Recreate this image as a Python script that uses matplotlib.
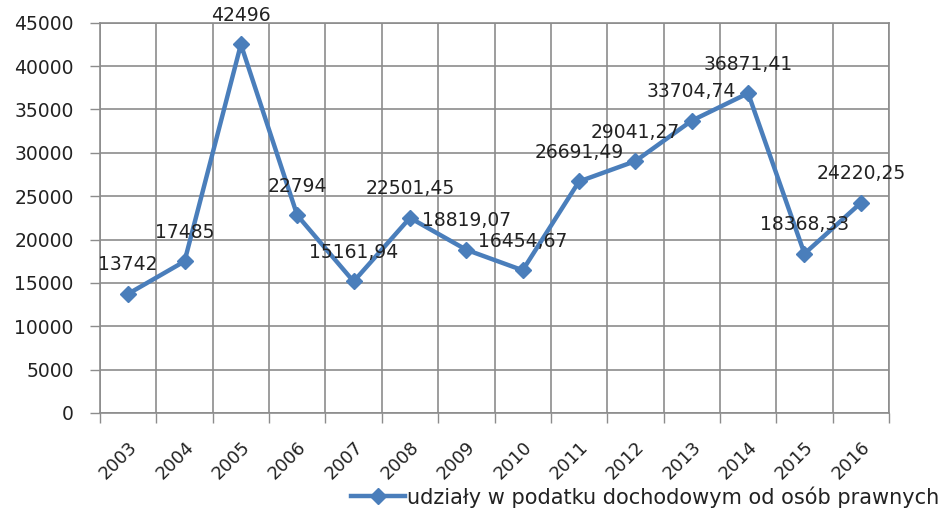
import matplotlib
matplotlib.use("Agg")
import matplotlib.pyplot as plt
import numpy as np

years = ["2003", "2004", "2005", "2006", "2007", "2008", "2009", "2010",
         "2011", "2012", "2013", "2014", "2015", "2016"]
values = [13742, 17485, 42496, 22794, 15161.94, 22501.45, 18819.07, 16454.67,
          26691.49, 29041.27, 33704.74, 36871.41, 18368.33, 24220.25]
labels = ["13742", "17485", "42496", "22794", "15161,94", "22501,45", "18819,07",
          "16454,67", "26691,49", "29041,27", "33704,74", "36871,41", "18368,33",
          "24220,25"]
series_name = "udziały w podatku dochodowym od osób prawnych"

color = "#4a7ebb"
grid_c = "#8c8c8c"
txt_c = "#222222"

fig = plt.figure(figsize=(9.52, 5.13), dpi=100)
ax = fig.add_axes([100/952, 1-413/513, (889-100)/952, (413-22.7)/513])

x = np.arange(len(years))
ax.plot(x, values, color=color, lw=3.2, marker="D", ms=8, mfc=color, mec=color,
        label=series_name, solid_joinstyle="miter", zorder=3)

for xi, v, t in zip(x, values, labels):
    ax.annotate(t, (xi, v), xytext=(0, 29), textcoords="offset pixels",
                ha="center", va="center", fontsize=13.5, color=txt_c, zorder=4)

ax.set_xlim(-0.5, len(years) - 0.5)
ax.set_ylim(0, 45000)
ax.set_yticks(np.arange(0, 45001, 5000))
ax.set_yticklabels([str(v) for v in range(0, 45001, 5000)], fontsize=13.5, color=txt_c)

ax.set_xticks(x)
ax.set_xticklabels(years, rotation=45, ha="right", va="top", rotation_mode="anchor",
                   fontsize=13, color=txt_c)
ax.set_xticks(np.arange(-0.5, len(years), 1), minor=True)
ax.tick_params(axis="x", which="major", length=0, pad=18)
ax.tick_params(axis="x", which="minor", length=7, color=grid_c, width=1)
ax.tick_params(axis="y", which="major", length=7, color=grid_c, width=1, pad=12)

ax.grid(True, which="major", axis="y", color=grid_c, lw=1.2)
ax.grid(True, which="minor", axis="x", color=grid_c, lw=1.2)
ax.set_axisbelow(True)
for s in ax.spines.values():
    s.set_color(grid_c)
    s.set_linewidth(1.2)

leg = fig.legend(loc="center right", bbox_to_anchor=(948/952, 1-497/513), frameon=False,
                 fontsize=15, handlelength=2.6, handletextpad=0.1, borderaxespad=0)
for t in leg.get_texts():
    t.set_color(txt_c)

fig.savefig("out.png", dpi=100)
